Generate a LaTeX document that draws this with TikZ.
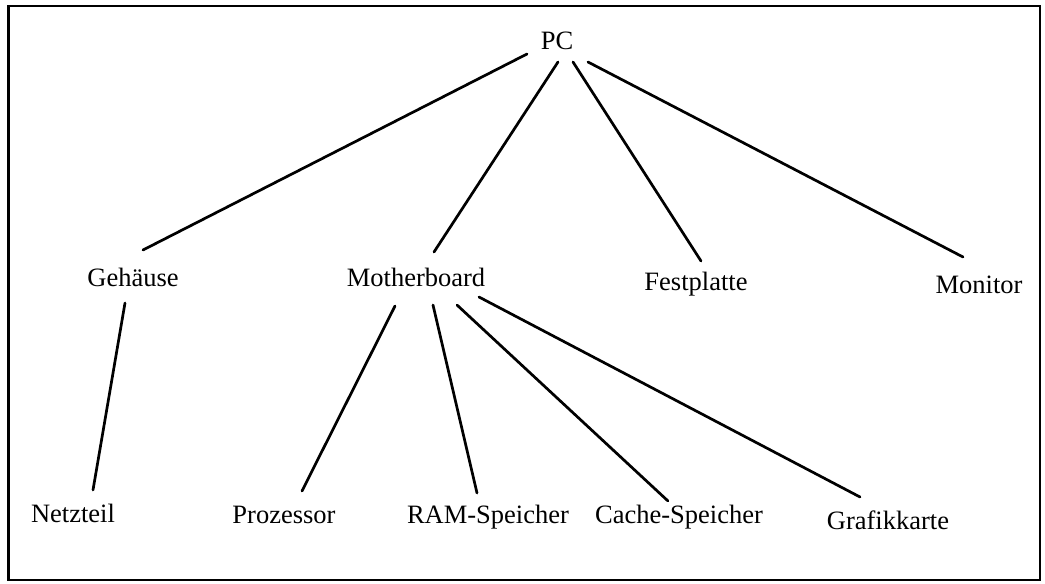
\documentclass[tikz,border=0pt]{standalone}
\usepackage{fontspec}
\setmainfont{Liberation Serif}
\begin{document}
\begin{tikzpicture}[x=1pt,y=-1pt,
  lbl/.style={anchor=base,inner sep=0pt,font=\fontsize{26.5}{30}\selectfont},
  edge/.style={line width=2.7pt,line cap=round},
  frame/.style={line width=2.4pt}]
\useasboundingbox (0,0) rectangle (1045,584);
\draw[frame] (8.5,6) rectangle (1040,580);
\node[lbl] (pc) at (557,49) {PC};
\node[lbl] (geh) at (133,286) {Gehäuse};
\node[lbl] (mb) at (416,286) {Motherboard};
\node[lbl] (fest) at (696,290) {Festplatte};
\node[lbl] (mon) at (979,293) {Monitor};
\node[lbl] (netz) at (73,522) {Netzteil};
\node[lbl] (proz) at (284,523) {Prozessor};
\node[lbl] (ram) at (488,523) {RAM-Speicher};
\node[lbl] (cache) at (679,523) {Cache-Speicher};
\node[lbl] (graf) at (888,529) {Grafikkarte};
\draw[edge] ([xshift=-30pt,yshift=-5pt]pc.base) -- ([xshift=10pt,yshift=36pt]geh.base);
\draw[edge] ([xshift=1pt,yshift=-13pt]pc.base) -- ([xshift=18pt,yshift=34pt]mb.base);
\draw[edge] ([xshift=16pt,yshift=-13pt]pc.base) -- ([xshift=5pt,yshift=29pt]fest.base);
\draw[edge] ([xshift=31pt,yshift=-13pt]pc.base) -- ([xshift=-16pt,yshift=36pt]mon.base);
\draw[edge] ([xshift=-8pt,yshift=-17pt]geh.base) -- ([xshift=20pt,yshift=32pt]netz.base);
\draw[edge] ([xshift=-21pt,yshift=-20pt]mb.base) -- ([xshift=18pt,yshift=32pt]proz.base);
\draw[edge] ([xshift=17pt,yshift=-19pt]mb.base) -- ([xshift=-11pt,yshift=30pt]ram.base);
\draw[edge] ([xshift=41pt,yshift=-19pt]mb.base) -- ([xshift=-11pt,yshift=22pt]cache.base);
\draw[edge] ([xshift=63pt,yshift=-11pt]mb.base) -- ([xshift=-28pt,yshift=32pt]graf.base);
\end{tikzpicture}
\end{document}
